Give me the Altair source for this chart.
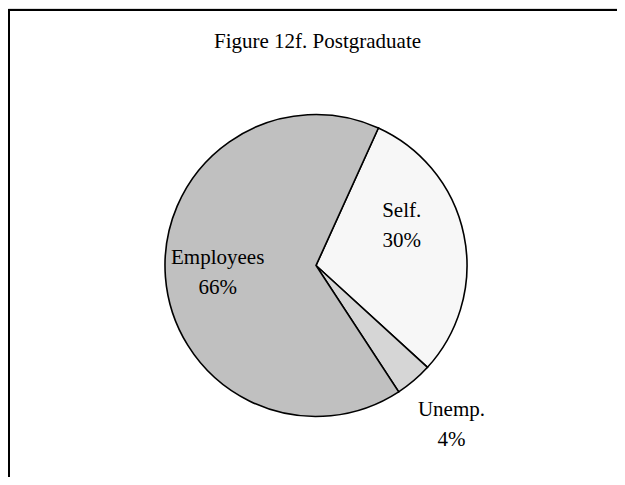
import math
import altair as alt
import pandas as pd

TITLE = "Figure 12f. Postgraduate"
categories = ["Self.", "Unemp.", "Employees"]
values = [30, 4, 66]
pct_labels = ["30%", "4%", "66%"]
fills = ["#F7F7F7", "#D6D6D6", "#C0C0C0"]

df = pd.DataFrame({
    "cat": categories,
    "val": values,
    "order": list(range(len(categories))),
    "label": [f"{c}\n{p}" for c, p in zip(categories, pct_labels)],
})

W, H = 609, 469
CX, CY = 308, 257.5
R = 151
start = math.radians(24.4)
theta_scale = alt.Scale(domain=[0, 100], range=[start, start + 2 * math.pi])

pie = alt.Chart(df).mark_arc(stroke="black", strokeWidth=1.6, outerRadius=R).encode(
    theta=alt.Theta("val:Q", stack=True, scale=theta_scale),
    order=alt.Order("order:Q"),
    x=alt.value(CX),
    y=alt.value(CY),
    color=alt.Color("cat:N", scale=alt.Scale(domain=categories, range=fills), legend=None),
)

FONT = "Liberation Serif"

mid_base = alt.Chart(df).transform_window(
    cum="sum(val)", sort=[alt.SortField("order", order="ascending")]
).transform_calculate(mid="datum.cum - datum.val / 2")

def label_layer(cat, r, dx=0, dy=0):
    return mid_base.transform_filter(alt.datum.cat == cat).mark_text(
        font=FONT, fontSize=21, lineBreak="\n", lineHeight=30,
        baseline="middle", align="center", color="black", dx=dx, dy=dy - 15,
    ).encode(
        theta=alt.Theta("mid:Q", stack=None, scale=theta_scale),
        x=alt.value(CX), y=alt.value(CY),
        radius=alt.value(r),
        text="label:N",
    )

labels = [
    label_layer("Self.", 94.6, dx=-7, dy=-20),
    label_layer("Unemp.", 209),
    label_layer("Employees", 98.6),
]

title = alt.Chart(pd.DataFrame({"t": [TITLE]})).mark_text(
    font=FONT, fontSize=21, align="center", baseline="middle", color="black"
).encode(x=alt.value(309.5), y=alt.value(34), text="t:N")

frame_left = alt.Chart(pd.DataFrame({"a": [0]})).mark_rule(color="black", strokeWidth=2).encode(
    x=alt.value(1), y=alt.value(1), y2=alt.value(H)
)
frame_top = alt.Chart(pd.DataFrame({"a": [0]})).mark_rule(color="black", strokeWidth=2).encode(
    x=alt.value(0), x2=alt.value(W), y=alt.value(2)
)

chart = alt.layer(pie, *labels, title, frame_left, frame_top).properties(
    width=W, height=H, autosize=alt.AutoSizeParams(type="none"), padding=0,
).configure_view(stroke=None).configure(background="white")

chart.save("out.html", embed_options={"renderer": "svg", "actions": False})
